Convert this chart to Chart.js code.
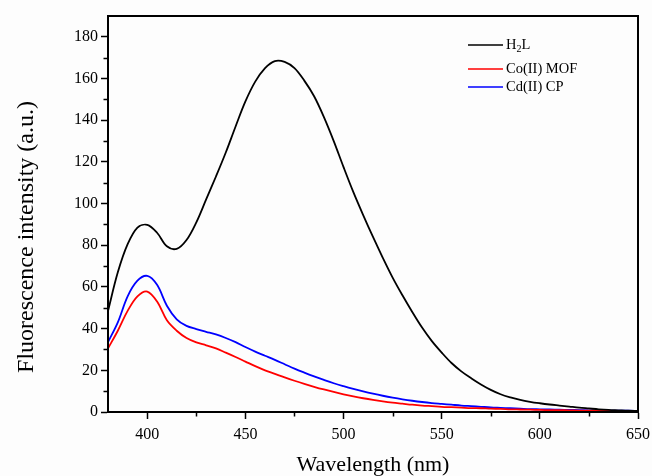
<!DOCTYPE html>
<html>
<head>
<meta charset="utf-8">
<script src="https://cdn.jsdelivr.net/npm/chart.js@4.4.1/dist/chart.umd.min.js"></script>
<style>
  html, body { margin: 0; padding: 0; background: #fff; }
</style>
</head>
<body>
<canvas id="myChart" width="652" height="476"></canvas>
<script>
/* values, 5 nm steps */
const wavelengths = [380,385,390,395,400,405,410,415,420,425,430,435,440,445,450,455,460,465,470,475,
  480,485,490,495,500,505,510,515,520,525,530,535,540,545,550,555,560,565,570,575,
  580,585,590,595,600,605,610,615,620,625,630,635,640,645,650];

const h2l = [48.5,67,80.5,88.5,89.8,86,79.5,78.3,82.5,91,102,113,124.5,137,149,158.5,165,168.4,168,165,
  159,151.5,141.5,130,117.5,105.5,94.5,84,74,64.5,56,48,40.5,34,28.5,23.5,19.5,16.2,13.2,10.6,
  8.5,7,5.8,4.9,4.2,3.6,3.1,2.6,2.1,1.7,1.3,1,0.8,0.6,0.5];

const coMof = [30.5,39,48.5,55.5,57.8,53,44,39,35.5,33.4,32,30.5,28.5,26.4,24.2,22,20,18.3,16.6,15,
  13.5,12.1,10.8,9.6,8.5,7.5,6.6,5.8,5.1,4.5,4,3.5,3.1,2.8,2.5,2.3,2.1,1.9,1.8,1.6,
  1.5,1.3,1.2,1.1,1,0.9,0.85,0.8,0.7,0.65,0.6,0.55,0.5,0.45,0.4];

const cdCp = [33.5,43,55.5,63,65.3,61,51,44.5,41.3,39.8,38.5,37.2,35.5,33.5,31.2,29,27,25,22.9,20.8,
  18.9,17.1,15.4,13.8,12.4,11.1,9.9,8.8,7.8,6.9,6.1,5.4,4.8,4.3,3.9,3.5,3.1,2.8,2.5,2.2,
  2,1.8,1.6,1.4,1.3,1.2,1.1,1,0.9,0.8,0.7,0.7,0.6,0.6,0.5];

const seriesNames = ["H2L", "Co(II) MOF", "Cd(II) CP"];
const seriesColors = ["#000000", "#ff0000", "#0000ff"];
const xMajor = [400, 450, 500, 550, 600, 650];
const xMinor = [425, 475, 525, 575, 625];
const yMajor = [0, 20, 40, 60, 80, 100, 120, 140, 160, 180];
const yMinor = [10, 30, 50, 70, 90, 110, 130, 150, 170];

const serif = "'Liberation Serif', 'Times New Roman', serif";

const toPoints = (vals) => wavelengths.map((w, i) => ({ x: w, y: vals[i] }));

// frame, minor ticks, y title and legend
const extras = {
  id: "extras",
  beforeDraw(chart) {
    const ctx = chart.ctx;
    ctx.save();
    ctx.fillStyle = "#fdfdfd";
    ctx.fillRect(0, 0, chart.width, chart.height);
    ctx.restore();
  },
  afterDraw(chart) {
    const ctx = chart.ctx;
    const a = chart.chartArea;
    const xs = chart.scales.x, ys = chart.scales.y;
    ctx.save();
    ctx.strokeStyle = "#000";
    ctx.lineWidth = 2;
    ctx.strokeRect(a.left, a.top, a.right - a.left, a.bottom - a.top);

    ctx.lineWidth = 1.5;
    ctx.beginPath();
    xMinor.forEach((v) => {
      const px = Math.round(xs.getPixelForValue(v)) + 0.5;
      ctx.moveTo(px, a.bottom);
      ctx.lineTo(px, a.bottom + 4.5);
    });
    yMinor.forEach((v) => {
      const py = Math.round(ys.getPixelForValue(v)) + 0.5;
      ctx.moveTo(a.left, py);
      ctx.lineTo(a.left - 4.5, py);
    });
    ctx.stroke();

    // y axis title
    ctx.fillStyle = "#000";
    ctx.font = "24px " + serif;
    ctx.textAlign = "center";
    ctx.textBaseline = "middle";
    ctx.translate(27, 237);
    ctx.rotate(-Math.PI / 2);
    ctx.fillText("Fluorescence intensity (a.u.)", 0, 0);
    ctx.restore();

    // legend
    ctx.save();
    const legendY = [45, 69, 87];
    ctx.textBaseline = "middle";
    ctx.textAlign = "left";
    seriesNames.forEach((name, i) => {
      const y = legendY[i];
      ctx.strokeStyle = seriesColors[i];
      ctx.lineWidth = 1.6;
      ctx.beginPath();
      ctx.moveTo(468, y);
      ctx.lineTo(503, y);
      ctx.stroke();
      ctx.fillStyle = "#000";
      let tx = 506;
      if (name === "H2L") {
        ctx.font = "14.5px " + serif;
        ctx.fillText("H", tx, y);
        tx += ctx.measureText("H").width;
        ctx.font = "10px " + serif;
        ctx.fillText("2", tx, y + 4);
        tx += ctx.measureText("2").width;
        ctx.font = "14.5px " + serif;
        ctx.fillText("L", tx, y);
      } else {
        ctx.font = "14.5px " + serif;
        ctx.fillText(name, tx, y);
      }
    });
    ctx.restore();
  }
};

const config = {
  type: "line",
  data: {
    datasets: [
      { label: seriesNames[0], data: toPoints(h2l), borderColor: seriesColors[0] },
      { label: seriesNames[1], data: toPoints(coMof), borderColor: seriesColors[1] },
      { label: seriesNames[2], data: toPoints(cdCp), borderColor: seriesColors[2] }
    ]
  },
  options: {
    responsive: false,
    animation: false,
    devicePixelRatio: 1,
    layout: { padding: { left: 0, right: 14, top: 16, bottom: 0 } },
    elements: {
      point: { radius: 0 },
      line: { borderWidth: 1.8, tension: 0.35, fill: false }
    },
    plugins: { legend: { display: false }, tooltip: { enabled: false } },
    scales: {
      x: {
        type: "linear",
        min: 380,
        max: 650,
        afterFit: (scale) => { scale.height = 64; scale.paddingLeft = 0; scale.paddingRight = 0; },
        afterBuildTicks: (scale) => { scale.ticks = xMajor.map((v) => ({ value: v })); },
        grid: { display: true, drawOnChartArea: false, drawTicks: true, tickLength: 7, tickColor: "#000", tickWidth: 1.5 },
        border: { display: true, color: "#000", width: 2 },
        ticks: { color: "#000", font: { family: serif, size: 16 }, padding: 6, maxRotation: 0 },
        title: { display: true, text: "Wavelength (nm)", color: "#000", font: { family: serif, size: 22, lineHeight: 1 }, padding: 0 }
      },
      y: {
        type: "linear",
        min: 0,
        max: 190,
        afterFit: (scale) => { scale.width = 108; scale.paddingTop = 0; scale.paddingBottom = 0; },
        afterBuildTicks: (scale) => { scale.ticks = yMajor.map((v) => ({ value: v })); },
        grid: { display: true, drawOnChartArea: false, drawTicks: true, tickLength: 7, tickColor: "#000", tickWidth: 1.5 },
        border: { display: true, color: "#000", width: 2 },
        ticks: { color: "#000", font: { family: serif, size: 16 }, padding: 3 }
      }
    }
  },
  plugins: [extras]
};

document.addEventListener("DOMContentLoaded", () => {
  new Chart(document.querySelector("#myChart"), config);
});
</script>
</body>
</html>
